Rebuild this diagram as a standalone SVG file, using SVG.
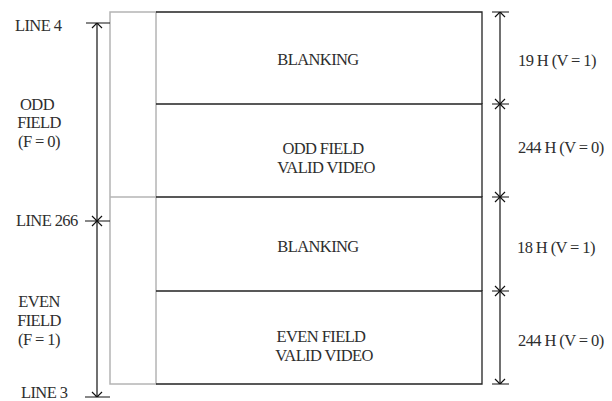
<svg xmlns="http://www.w3.org/2000/svg" width="612" height="401" viewBox="0 0 612 401">
<style>
text{font-family:"Liberation Serif","Times New Roman",serif;font-size:16.5px;letter-spacing:-0.6px;fill:#2e2e2e}
.c{text-anchor:middle}
.g{fill:none;stroke:#b4b4b4;stroke-width:1.5}
.k{fill:none;stroke:#222;stroke-width:1.3}
.d{fill:none;stroke:#111;stroke-width:1.2}
</style>
<rect width="612" height="401" fill="#fff"/>
<g id="field-column">
<rect class="g" x="110" y="12" width="46" height="372"/>
<line class="g" x1="110" y1="197" x2="156" y2="197"/>
</g>
<g id="blanking-odd">
<path class="k" d="M156 12H482V104"/>
<text class="c" x="318" y="65">BLANKING</text>
</g>
<g id="odd-valid">
<path class="k" d="M156 104H482V197"/>
<text class="c" x="323" y="154">ODD FIELD</text>
<text class="c" x="326" y="173">VALID VIDEO</text>
</g>
<g id="blanking-even">
<path class="k" d="M156 197H482V291"/>
<text class="c" x="318" y="252">BLANKING</text>
</g>
<g id="even-valid">
<path class="k" d="M156 291H482V384H156"/>
<text class="c" x="321" y="342">EVEN FIELD</text>
<text class="c" x="324" y="361">VALID VIDEO</text>
</g>
<g id="left-labels">
<text x="15" y="31">LINE 4</text>
<text class="c" x="37" y="110">ODD</text>
<text class="c" x="39" y="128">FIELD</text>
<text class="c" x="39" y="147">(F = 0)</text>
<text x="16" y="226">LINE 266</text>
<text class="c" x="39" y="307">EVEN</text>
<text class="c" x="39" y="326">FIELD</text>
<text class="c" x="39" y="345">(F = 1)</text>
<text x="21" y="398">LINE 3</text>
</g>
<g id="right-labels">
<text x="518" y="66">19 H (V = 1)</text>
<text x="518" y="153">244 H (V = 0)</text>
<text x="517" y="253">18 H (V = 1)</text>
<text x="518" y="346">244 H (V = 0)</text>
</g>
<g id="connectors">
<line class="d" x1="97" y1="23" x2="97" y2="397"/>
<path class="d" d="M86 23H110M92 28L97 23L102 28"/>
<path class="d" d="M85 221H110M92 216L97 221L102 216M92 226L97 221L102 226"/>
<path class="d" d="M85 397H110M92 392L97 397L102 392"/>
<line class="d" x1="500" y1="12" x2="500" y2="384"/>
<path class="d" d="M492 12H509M495 17L500 12L505 17"/>
<path class="d" d="M492 104H509M495 99L500 104L505 99M495 109L500 104L505 109"/>
<path class="d" d="M492 197H509M495 192L500 197L505 192M495 202L500 197L505 202"/>
<path class="d" d="M492 291H509M495 286L500 291L505 286M495 296L500 291L505 296"/>
<path class="d" d="M492 384H509M495 379L500 384L505 379"/>
</g>
</svg>
